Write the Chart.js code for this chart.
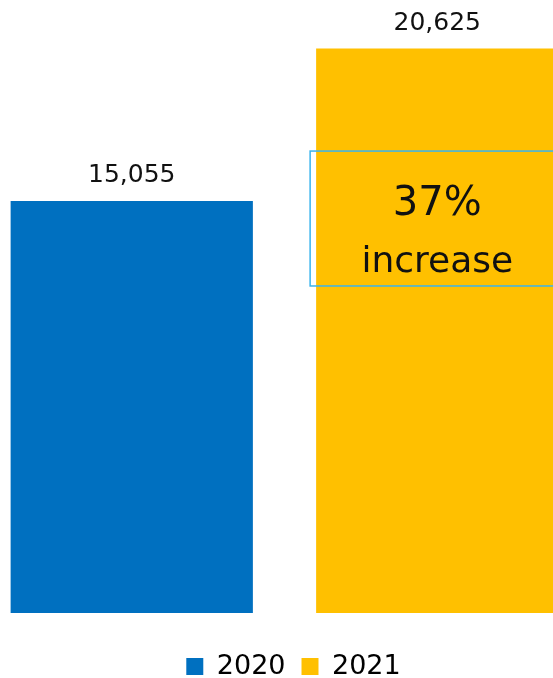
<!DOCTYPE html>
<html>
<head>
<meta charset="utf-8">
<script src="https://cdn.jsdelivr.net/npm/chart.js@4"></script>
<style>
  html, body { margin: 0; padding: 0; background: #fff; overflow: hidden; }
  #wrap { position: absolute; left: -21px; top: 0; width: 611px; height: 690px; }
</style>
</head>
<body>
<div id="wrap"><canvas id="chart"></canvas></div>
<script>
// data
const years = ["2020", "2021"];
const counts = [15055, 20625];
const barColors = ["#0070C0", "#FFC000"];
const noteLines = ["37%", "increase"];

const FONT = "'DejaVu Sans', sans-serif";

// value labels above each bar
const valueLabels = {
  id: "valueLabels",
  afterDatasetsDraw(chart) {
    const ctx = chart.ctx;
    const meta = chart.getDatasetMeta(0);
    ctx.save();
    ctx.fillStyle = "#111";
    ctx.font = "25px " + FONT;
    ctx.textAlign = "center";
    ctx.textBaseline = "alphabetic";
    meta.data.forEach((bar, i) => {
      ctx.fillText(counts[i].toLocaleString("en-US"), bar.x, bar.y - 19);
    });
    ctx.restore();
  }
};

// the "37% increase" text box on the 2021 bar
const noteBox = {
  id: "noteBox",
  afterDatasetsDraw(chart) {
    const ctx = chart.ctx;
    const bar = chart.getDatasetMeta(0).data[1];
    const y = chart.scales.y;
    const left = bar.x - bar.width / 2 - 6;
    const top = y.getPixelForValue(16880);
    const bottom = y.getPixelForValue(11950);
    ctx.save();
    ctx.strokeStyle = "#3AB4EE";
    ctx.lineWidth = 1.5;
    ctx.strokeRect(left, top, chart.width - left + 10, bottom - top);
    ctx.fillStyle = "#111";
    ctx.textAlign = "center";
    ctx.font = "40px " + FONT;
    ctx.fillText(noteLines[0], bar.x, top + 54);
    ctx.font = "36px " + FONT;
    ctx.fillText(noteLines[1], bar.x, top + 112);
    ctx.restore();
  }
};

// nudge the legend a little right, as in the picture
const legendNudge = {
  id: "legendNudge",
  afterLayout(chart) {
    if (!chart.legend) return;
    chart.legend.left += 9;
    chart.legend.right += 9;
  }
};

new Chart(document.getElementById("chart"), {
  type: "bar",
  data: {
    labels: years,
    datasets: [{
      data: counts,
      backgroundColor: barColors,
      barPercentage: 0.793,
      categoryPercentage: 1
    }]
  },
  options: {
    responsive: true,
    maintainAspectRatio: false,
    animation: false,
    layout: { padding: 0 },
    scales: {
      // x axis kept only as empty space between bars and legend
      x: {
        grid: { display: false, drawTicks: false },
        border: { display: false },
        ticks: { color: "rgba(0,0,0,0)", font: { size: 10 }, padding: 6 }
      },
      y: { display: false, min: 0, max: 22400 }
    },
    plugins: {
      tooltip: { enabled: false },
      legend: {
        position: "bottom",
        labels: {
          font: { family: FONT, size: 27 },
          color: "#111",
          boxWidth: 17,
          boxHeight: 17,
          padding: 16,
          generateLabels: () => years.map((yr, i) => ({
            text: yr,
            fillStyle: barColors[i],
            strokeStyle: barColors[i],
            lineWidth: 0,
            index: i
          }))
        }
      }
    }
  },
  plugins: [valueLabels, noteBox, legendNudge]
});
</script>
</body>
</html>
